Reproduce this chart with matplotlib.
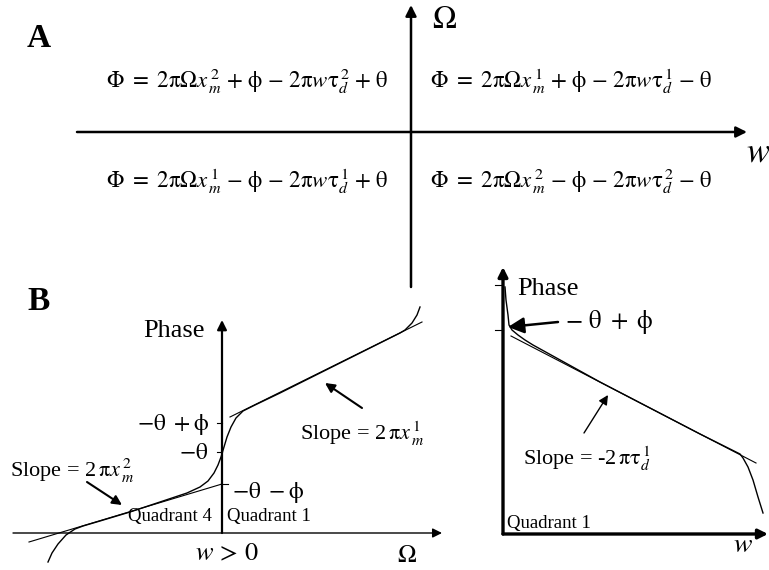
import matplotlib
matplotlib.use("Agg")
import matplotlib.pyplot as plt

plt.rcParams['font.family'] = ['Liberation Serif', 'DejaVu Serif']
plt.rcParams['mathtext.fontset'] = 'stix'

# ---------------- data (canvas pixel coordinates, y grows downward) ----------------
# Panel A: quadrant equations
eq_q2 = r"$\mathrm{\Phi}\ \mathrm{=}\ \mathrm{2\pi\Omega}x_{\,m}^{\,2}\ \mathrm{+}\ \mathrm{\phi}\ \mathrm{-}\ \mathrm{2\pi}w\mathrm{\tau}_{d}^{\,2}\ \mathrm{+}\ \mathrm{\theta}$"
eq_q1 = r"$\mathrm{\Phi}\ \mathrm{=}\ \mathrm{2\pi\Omega}x_{\,m}^{\,1}\ \mathrm{+}\ \mathrm{\phi}\ \mathrm{-}\ \mathrm{2\pi}w\mathrm{\tau}_{d}^{\,1}\ \mathrm{-}\ \mathrm{\theta}$"
eq_q3 = r"$\mathrm{\Phi}\ \mathrm{=}\ \mathrm{2\pi\Omega}x_{\,m}^{\,1}\ \mathrm{-}\ \mathrm{\phi}\ \mathrm{-}\ \mathrm{2\pi}w\mathrm{\tau}_{d}^{\,1}\ \mathrm{+}\ \mathrm{\theta}$"
eq_q4 = r"$\mathrm{\Phi}\ \mathrm{=}\ \mathrm{2\pi\Omega}x_{\,m}^{\,2}\ \mathrm{-}\ \mathrm{\phi}\ \mathrm{-}\ \mathrm{2\pi}w\mathrm{\tau}_{d}^{\,2}\ \mathrm{-}\ \mathrm{\theta}$"

# Panel B left: sketched phase curve vs Omega
bl_curve_x = [48, 52, 58, 66, 75, 83, 100, 130, 160, 187, 200, 208, 214, 218, 221,
              224, 227, 231, 236, 243, 255, 280, 320, 360, 400, 405, 412, 417, 420]
bl_curve_y = [562, 553, 544, 535, 529, 526, 521, 512, 502, 493, 487, 481, 473, 465, 457,
              447, 437, 427, 418, 411, 405, 393, 373, 353, 333, 330, 323, 315, 307]
bl_tan_low_x = [29, 222]
bl_tan_low_y = [542, 484]
bl_tan_up_x = [230, 422]
bl_tan_up_y = [417, 322]
bl_tick_y = [423, 452, 484]
bl_tick_labels = [r"$\mathrm{-\theta\ +\phi}$", r"$\mathrm{-\theta}$", r"$\mathrm{-\theta\ -\phi}$"]

# Panel B right: sketched phase curve vs w (quadrant 1)
br_curve_x = [505, 506, 508, 509, 512, 518, 525, 533, 600, 700, 740, 743, 748, 753, 758, 763]
br_curve_y = [287, 300, 315, 325, 330, 335, 340, 345, 382, 434, 454, 458, 467, 480, 497, 513]
br_tan_x = [511, 756]
br_tan_y = [336, 463]
br_tick_y = [285, 330]

fig = plt.figure(figsize=(7.69, 5.70), dpi=100)
ax = fig.add_axes([0, 0, 1, 1])
ax.set_xlim(0, 769)
ax.set_ylim(570, 0)
ax.axis('off')

K = 'black'

def arrow(x0, y0, x1, y1, lw=1.5, ms=14, style='-|>'):
    ax.annotate('', xy=(x1, y1), xytext=(x0, y0),
                arrowprops=dict(arrowstyle=style, lw=lw, color=K,
                                shrinkA=0, shrinkB=0, mutation_scale=ms))

# ---------------- Panel A ----------------
ax.text(27, 47, 'A', fontsize=24, fontweight='bold', ha='left', va='baseline')
arrow(77, 132, 747, 132, lw=1.8, ms=16)
arrow(411, 287, 411, 5, lw=1.8, ms=16)
ax.text(432, 28, r'$\mathrm{\Omega}$', fontsize=23, ha='left', va='baseline')
ax.text(746, 162, r'$w$', fontsize=25, ha='left', va='baseline')

eq_fs = 16.5
ax.text(106, 88, eq_q2, fontsize=eq_fs, ha='left', va='baseline')
ax.text(430, 88, eq_q1, fontsize=eq_fs, ha='left', va='baseline')
ax.text(106, 188, eq_q3, fontsize=eq_fs, ha='left', va='baseline')
ax.text(430, 188, eq_q4, fontsize=eq_fs, ha='left', va='baseline')

# ---------------- Panel B left ----------------
ax.text(27, 310, 'B', fontsize=24, fontweight='bold', ha='left', va='baseline')
arrow(13, 533, 442, 533, lw=1.0, ms=14)
arrow(222, 533, 222, 320, lw=1.6, ms=14)
ax.text(143, 337, 'Phase', fontsize=19, ha='left', va='baseline')

ax.plot(bl_tan_low_x, bl_tan_low_y, color=K, lw=0.8)
ax.plot(bl_tan_up_x, bl_tan_up_y, color=K, lw=0.8)
ax.plot(bl_curve_x, bl_curve_y, color=K, lw=1.0)

for i, ty in enumerate(bl_tick_y):
    if i < 2:
        ax.plot([217, 222], [ty, ty], color=K, lw=0.8)
    else:
        ax.plot([222, 228], [ty, ty], color=K, lw=0.8)
ax.text(210, bl_tick_y[0] + 7, bl_tick_labels[0], fontsize=17, ha='right', va='baseline')
ax.text(208, bl_tick_y[1] + 7, bl_tick_labels[1], fontsize=17, ha='right', va='baseline')
ax.text(232, bl_tick_y[2] + 14, bl_tick_labels[2], fontsize=17, ha='left', va='baseline')

ax.text(10, 477, r'Slope = 2$\,\mathrm{\pi}x_{\,m}^{\,2}$', fontsize=16, ha='left', va='baseline')
arrow(87, 482, 122, 505, lw=1.5, ms=14)
ax.text(300, 440, r'Slope = 2$\,\mathrm{\pi}x_{\,m}^{\,1}$', fontsize=16, ha='left', va='baseline')
arrow(362, 408, 325, 383, lw=1.5, ms=14)

ax.text(128, 521, 'Quadrant 4', fontsize=13.5, ha='left', va='baseline')
ax.text(227, 521, 'Quadrant 1', fontsize=13.5, ha='left', va='baseline')
ax.text(195, 560, r'$w\mathrm{\,>\,0}$', fontsize=19, ha='left', va='baseline')
ax.text(397, 562, r'$\mathrm{\Omega}$', fontsize=18, ha='left', va='baseline')

# ---------------- Panel B right ----------------
arrow(503, 534, 503, 267, lw=2.4, ms=14)
arrow(503, 534, 768, 534, lw=2.4, ms=14)
for ty in br_tick_y:
    ax.plot([495, 503], [ty, ty], color=K, lw=0.8)
ax.plot(br_tan_x, br_tan_y, color=K, lw=0.8)
ax.plot(br_curve_x, br_curve_y, color=K, lw=1.0)

ax.text(517, 295, 'Phase', fontsize=19, ha='left', va='baseline')
ax.text(565, 328, r'$\mathrm{-\ \theta\ +\ \phi}$', fontsize=18, ha='left', va='baseline')
arrow(558, 322, 508, 327, lw=1.8, ms=24)
ax.text(523, 465, r'Slope = -2$\,\mathrm{\pi\tau}_d^{\,1}$', fontsize=16, ha='left', va='baseline')
arrow(584, 433, 608, 395, lw=1.0, ms=14)
ax.text(507, 528, 'Quadrant 1', fontsize=13.5, ha='left', va='baseline')
ax.text(733, 552, r'$w$', fontsize=20, ha='left', va='baseline')

fig.savefig('out.png', dpi=100, facecolor='white')
